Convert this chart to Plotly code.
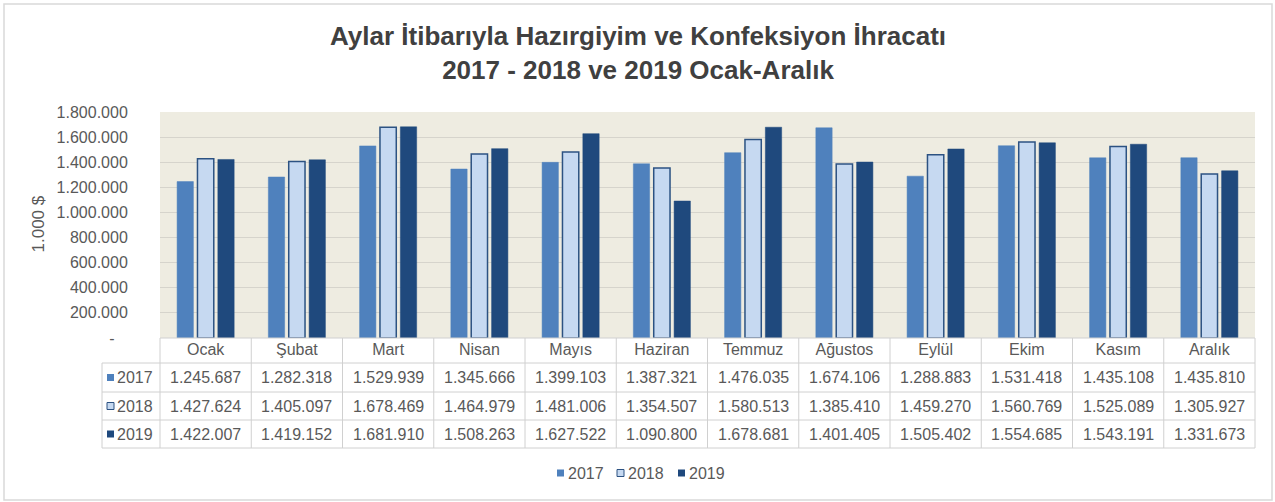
import plotly.graph_objects as go

months = ["Ocak", "Şubat", "Mart", "Nisan", "Mayıs", "Haziran", "Temmuz",
          "Ağustos", "Eylül", "Ekim", "Kasım", "Aralık"]
years = ["2017", "2018", "2019"]
v2017 = [1245687, 1282318, 1529939, 1345666, 1399103, 1387321, 1476035,
         1674106, 1288883, 1531418, 1435108, 1435810]
v2018 = [1427624, 1405097, 1678469, 1464979, 1481006, 1354507, 1580513,
         1385410, 1459270, 1560769, 1525089, 1305927]
v2019 = [1422007, 1419152, 1681910, 1508263, 1627522, 1090800, 1678681,
         1401405, 1505402, 1554685, 1543191, 1331673]
ytick_vals = [0, 200000, 400000, 600000, 800000, 1000000, 1200000, 1400000, 1600000, 1800000]

series = [v2017, v2018, v2019]
fills = ["#4F81BD", "#C6D9F1", "#1F497D"]
lines = ["#4F81BD", "#2C5282", "#1F497D"]
line_w = [0.5, 1.5, 0.5]

W, H = 1275, 502
L, R, T, B = 160, 20, 112, 164
PW = W - L - R
PH = H - T - B
BOT = H - B  # pixel y of plot bottom


def px(x):
    return (x - L) / PW


def py(y):
    return (BOT - y) / PH


def fmt(n):
    return f"{n:,}".replace(",", ".")


grey = "#595959"
font_family = "Liberation Sans, Arial, sans-serif"

fig = go.Figure()
for yr, vals, fc, lc, lw in zip(years, series, fills, lines, line_w):
    fig.add_trace(go.Bar(
        x=months, y=vals, name=yr, showlegend=False,
        marker=dict(color=fc, line=dict(color=lc, width=lw)),
    ))

ticktext = ["-\u00a0\u00a0\u00a0"] + [fmt(v) for v in ytick_vals[1:]]

shapes = []
annotations = []
tbl_line = "#D0D0D0"

# horizontal table lines
row_bounds = [363, 392, 420, 448]
shapes.append(dict(type="line", xref="paper", yref="paper", x0=px(160), x1=1,
                   y0=py(BOT), y1=py(BOT), line=dict(color=tbl_line, width=1)))
for yb in row_bounds:
    shapes.append(dict(type="line", xref="paper", yref="paper", x0=px(102), x1=1,
                       y0=py(yb), y1=py(yb), line=dict(color=tbl_line, width=1)))
# vertical table lines
shapes.append(dict(type="line", xref="paper", yref="paper", x0=px(102), x1=px(102),
                   y0=py(363), y1=py(448), line=dict(color=tbl_line, width=1)))
shapes.append(dict(type="line", xref="paper", yref="paper", x0=0, x1=0,
                   y0=py(BOT), y1=py(448), line=dict(color=tbl_line, width=1)))
shapes.append(dict(type="line", xref="paper", yref="paper", x0=1, x1=1,
                   y0=py(BOT), y1=py(448), line=dict(color=tbl_line, width=1)))
for i in range(len(months) - 1):
    shapes.append(dict(type="line", xref="x", yref="paper", x0=i + 0.5, x1=i + 0.5,
                       y0=py(BOT), y1=py(448), line=dict(color=tbl_line, width=1)))

# outer border
shapes.append(dict(type="rect", xref="paper", yref="paper",
                   x0=px(4), x1=px(1272), y0=py(4), y1=py(500),
                   line=dict(color="#D9D9D9", width=1.5), layer="below"))

# table rows
row_centers = [377.5, 406, 434]
for r, (yr, vals, fc, lc) in enumerate(zip(years, series, fills, lines)):
    yc = row_centers[r]
    shapes.append(dict(type="rect", xref="paper", yref="paper",
                       x0=px(107), x1=px(114), y0=py(yc - 3.5), y1=py(yc + 3.5),
                       fillcolor=fc, line=dict(color=lc, width=1 if r == 1 else 0)))
    annotations.append(dict(xref="paper", yref="paper", x=px(115), y=py(yc),
                            text=yr, showarrow=False, xanchor="left", yanchor="middle",
                            font=dict(size=16, color=grey, family=font_family)))
    for i, v in enumerate(vals):
        annotations.append(dict(xref="x", yref="paper", x=months[i], y=py(yc),
                                text=fmt(v), showarrow=False, xanchor="center",
                                yanchor="middle",
                                font=dict(size=16, color=grey, family=font_family)))

# legend (bottom, compact like the original)
leg_y = 473
leg_x = [557, 617, 678]
for yr, fc, lc, lx, r in zip(years, fills, lines, leg_x, range(3)):
    shapes.append(dict(type="rect", xref="paper", yref="paper",
                       x0=px(lx), x1=px(lx + 7), y0=py(leg_y - 3.5), y1=py(leg_y + 3.5),
                       fillcolor=fc, line=dict(color=lc, width=1 if r == 1 else 0)))
    annotations.append(dict(xref="paper", yref="paper", x=px(lx + 9), y=py(leg_y),
                            text=yr, showarrow=False, xanchor="left", yanchor="middle",
                            font=dict(size=16, color=grey, family=font_family)))

# y-axis title
annotations.append(dict(xref="paper", yref="paper", x=px(38), y=py(224.5),
                        text="1.000 $", textangle=-90, showarrow=False,
                        xanchor="center", yanchor="middle",
                        font=dict(size=17, color=grey, family=font_family)))

# chart title
annotations.append(dict(xref="paper", yref="paper", x=px(637.5), y=py(53),
                        text="<b>Aylar İtibarıyla Hazırgiyim ve Konfeksiyon İhracatı<br>"
                             "2017 - 2018 ve 2019 Ocak-Aralık</b>",
                        showarrow=False, xanchor="center", yanchor="middle",
                        font=dict(size=26, color="#404040",
                                  family="Liberation Sans, Arial")))

fig.update_layout(
    width=W, height=H,
    margin=dict(l=L, r=R, t=T, b=B),
    paper_bgcolor="white",
    plot_bgcolor="#EEECE1",
    barmode="group",
    bargap=0.33,
    bargroupgap=0.2,
    showlegend=False,
    font=dict(family=font_family, color=grey),
    shapes=shapes,
    annotations=annotations,
)
fig.update_xaxes(range=[-0.5, 11.5], showgrid=False, showline=False, zeroline=False,
                 tickfont=dict(size=16, color=grey, family=font_family), ticks="")
fig.update_yaxes(range=[0, 1800000], tickvals=ytick_vals, ticktext=ticktext,
                 showgrid=True, gridcolor="#D6D4CC", gridwidth=1, zeroline=False,
                 showline=False, ticks="outside", ticklen=28, tickcolor="rgba(0,0,0,0)",
                 tickfont=dict(size=16, color=grey, family=font_family))

fig.write_html("out.html", config={"displayModeBar": False},
               post_script="document.body.style.margin='0px';")
